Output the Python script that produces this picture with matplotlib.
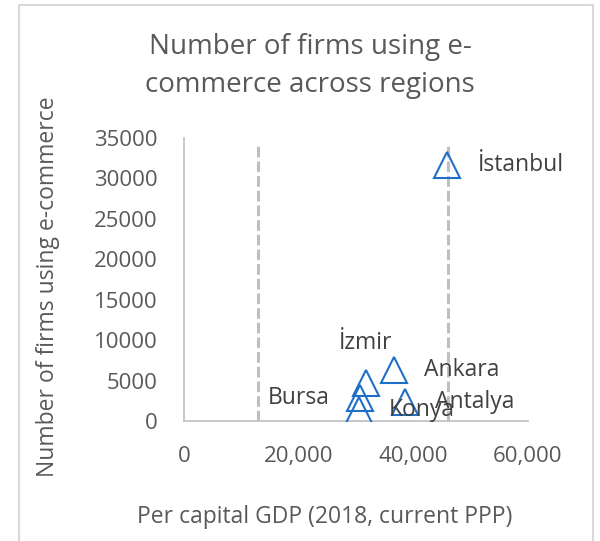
import matplotlib.pyplot as plt
from matplotlib.patches import Rectangle
from matplotlib.ticker import FuncFormatter

# values
regions = ['İstanbul', 'Ankara', 'İzmir', 'Antalya', 'Bursa', 'Konya']
gdp = [45900, 36600, 31700, 38500, 30700, 30450]
firms = [31600, 6350, 4700, 2400, 2800, 1300]
label_pos = ['right', 'right', 'above', 'right', 'left', 'right']

ref_lines = [12900, 46100]
ref_top = 34400

x_ticks = [0, 20000, 40000, 60000]
y_ticks = [0, 5000, 10000, 15000, 20000, 25000, 30000, 35000]

TEXT = '#595959'
LABEL = '#404040'
BLUE = '#1f6fc8'
GRID = '#bfbfbf'

plt.rcParams['font.family'] = ['Open Sans', 'DejaVu Sans']

W, H = 600, 541
fig = plt.figure(figsize=(W / 100, H / 100), dpi=100)
ax = fig.add_axes([184 / W, 1 - 421 / H, (528 - 184) / W, (421 - 138) / H])

# chart border (Excel chart area)
fig.patches.append(Rectangle((19 / W, -0.05), (593 - 19) / W, 1.05 - 5 / H,
                             transform=fig.transFigure, fill=False,
                             edgecolor='#d9d9d9', linewidth=1.5))

for xv in ref_lines:
    ax.plot([xv, xv], [0, ref_top], color=GRID, linewidth=2.2,
            linestyle=(0, (3.5, 1.3)), zorder=1)

ax.plot(gdp, firms, linestyle='none', marker='^', markersize=19,
        markerfacecolor='none', markeredgecolor=BLUE, markeredgewidth=1.5,
        zorder=3)

# data labels (Konya/Antalya overlap in the original too)
for name, xv, yv, pos in zip(regions, gdp, firms, label_pos):
    if pos == 'right':
        off, ha, va = (22, 0), 'left', 'center'
    elif pos == 'left':
        off, ha, va = (-22, 0), 'right', 'center'
    else:
        off, ha, va = (0, 29), 'center', 'center'
    ax.annotate(name, (xv, yv), xytext=off, textcoords='offset points',
                ha=ha, va=va, fontsize=16.5, color=LABEL, zorder=4)

ax.set_xlim(0, 60000)
ax.set_ylim(0, 35000)
ax.set_xticks(x_ticks)
ax.set_yticks(y_ticks)
ax.xaxis.set_major_formatter(FuncFormatter(lambda v, p: f'{int(v):,}'))
ax.yaxis.set_major_formatter(FuncFormatter(lambda v, p: f'{int(v)}'))
ax.tick_params(axis='both', length=0, labelsize=16, labelcolor=TEXT)
ax.tick_params(axis='x', pad=18)
ax.tick_params(axis='y', pad=19)

for s in ['top', 'right']:
    ax.spines[s].set_visible(False)
for s in ['left', 'bottom']:
    ax.spines[s].set_color(GRID)
    ax.spines[s].set_linewidth(1.2)

fig.text(310 / W, 1 - 66 / H, 'Number of firms using e-\ncommerce across regions',
         ha='center', va='center', fontsize=20, color=TEXT, linespacing=1.45)
fig.text(325 / W, 1 - 517 / H, 'Per capital GDP (2018, current PPP)',
         ha='center', va='center', fontsize=16.5, color=TEXT)
fig.text(48 / W, 1 - 287 / H, 'Number of firms using e-commerce',
         ha='center', va='center', rotation=90, fontsize=16.5, color=TEXT)

fig.savefig('out.png', dpi=100)
